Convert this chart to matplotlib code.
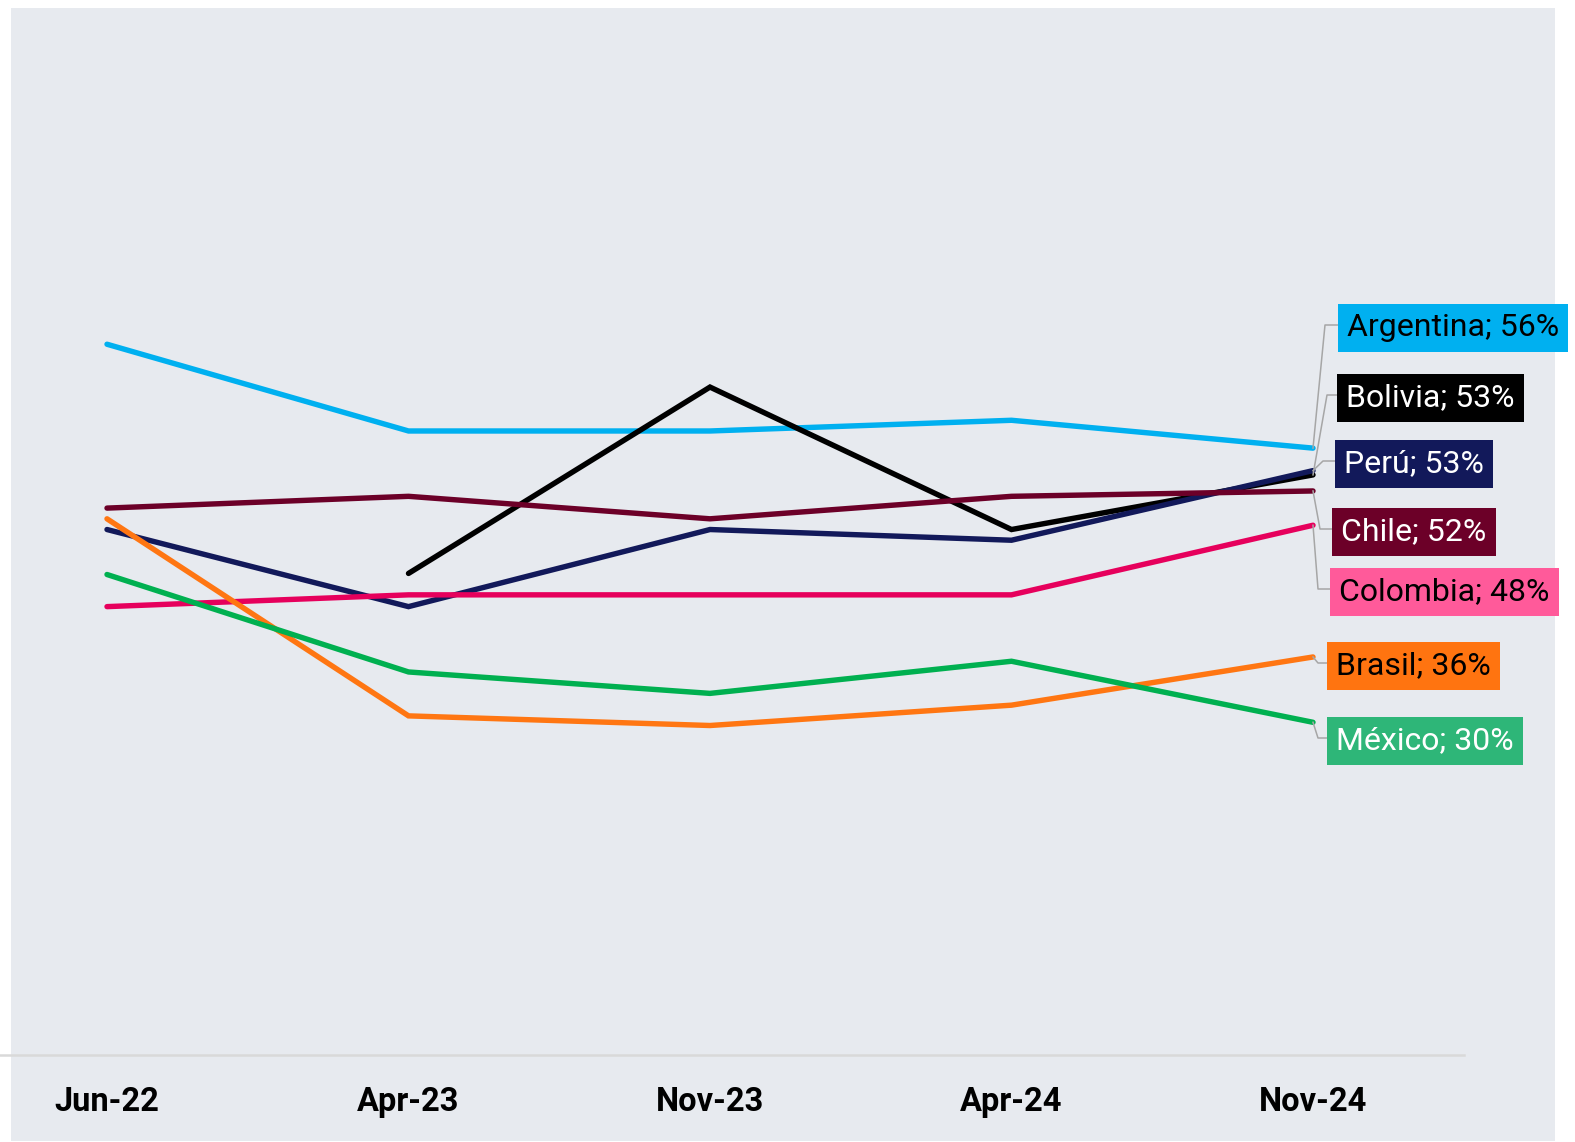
import matplotlib.pyplot as plt
from matplotlib.patches import Rectangle
from matplotlib.lines import Line2D

plt.rcParams['font.family'] = ['Roboto', 'DejaVu Sans']

# survey waves
periods = ['Jun-22', 'Apr-23', 'Nov-23', 'Apr-24', 'Nov-24']

# values (%), None = no data
argentina = [65.3, 57.2, 57.2, 58.2, 55.6]
bolivia = [None, 43.9, 61.3, 48.0, 53.1]
peru = [48.0, 40.8, 48.0, 47.0, 53.5]
chile = [50.0, 51.1, 49.0, 51.1, 51.6]
colombia = [40.8, 41.9, 41.9, 41.9, 48.4]
brasil = [49.0, 30.6, 29.7, 31.6, 36.1]
mexico = [43.8, 34.7, 32.7, 35.7, 30.0]

countries = ['Argentina', 'Bolivia', 'Perú', 'Chile', 'Colombia', 'Brasil', 'México']
series = [argentina, bolivia, peru, chile, colombia, brasil, mexico]
end_labels = ['56%', '53%', '53%', '52%', '48%', '36%', '30%']

line_colors = ['#00B0F0', '#000000', '#12195A', '#6C0028', '#E6005C', '#FF7612', '#00B050']
box_colors = ['#00B0F0', '#000000', '#12195A', '#6C0028', '#FF5A9A', '#FF7410', '#2EB678']
text_colors = ['black', 'white', 'white', 'white', 'black', 'black', 'white']

W, H = 1575, 1142
fig = plt.figure(figsize=(W / 100, H / 100), dpi=100)
fig.patch.set_facecolor('white')

# grey panel behind the chart
fig.patches.append(Rectangle((11 / W, 1 / H), (1555 - 11) / W, (1142 - 8 - 1) / H,
                             transform=fig.transFigure, facecolor='#E7EAEF',
                             edgecolor='none', zorder=-10))

# axes: bottom spine at y=1055px, x from 0 to 1464px
ax_bottom = (H - 1055) / H
ax_top = (H - 8) / H
ax = fig.add_axes([0, ax_bottom, 1464 / W, ax_top - ax_bottom])
ax.set_facecolor('none')

px_per_unit = 10.71
zero_px = 1043.6
ax.set_ylim((zero_px - 1055) / px_per_unit, (zero_px - 8) / px_per_unit)
x0, step = 107, 301.5
ax.set_xlim(-x0 / step, (1464 - x0) / step)

xs = list(range(len(periods)))
for vals, col in zip(series, line_colors):
    pts = [(x, v) for x, v in zip(xs, vals) if v is not None]
    ax.plot([p[0] for p in pts], [p[1] for p in pts], color=col, lw=3.9,
            solid_capstyle='round', solid_joinstyle='miter', zorder=3)

for s in ['top', 'right', 'left']:
    ax.spines[s].set_visible(False)
ax.spines['bottom'].set_color('#D9D9D9')
ax.spines['bottom'].set_linewidth(1.8)
ax.set_yticks([])
ax.set_xticks(xs)
ax.set_xticklabels(periods, fontsize=23.5, fontweight='bold')
ax.tick_params(axis='x', length=0, pad=22)

# end labels with leader lines
box_left = [1338, 1337, 1335, 1332, 1330, 1327, 1327]
box_cy = [325, 395, 461, 529, 589, 663, 738]
bend_x = [1325, 1327, 1323, 1320, 1318, 1318, 1318]

fig.canvas.draw()
for i, name in enumerate(countries):
    ex, ey = ax.transData.transform((xs[-1], series[i][-1]))
    ey = H - ey
    xs_px = [ex, bend_x[i], box_left[i]]
    ys_px = [ey, box_cy[i], box_cy[i]]
    fig.lines.append(Line2D([p / W for p in xs_px], [1 - p / H for p in ys_px],
                            transform=fig.transFigure, color='#A6A6A6', lw=1.1, zorder=2))
    fig.text((box_left[i] + 9) / W, 1 - box_cy[i] / H, f'{name}; {end_labels[i]}',
             fontsize=23, color=text_colors[i], ha='left', va='center_baseline',
             bbox=dict(boxstyle='square,pad=0.29', facecolor=box_colors[i],
                       edgecolor='none'), zorder=5)

fig.savefig('out.png', dpi=100)
